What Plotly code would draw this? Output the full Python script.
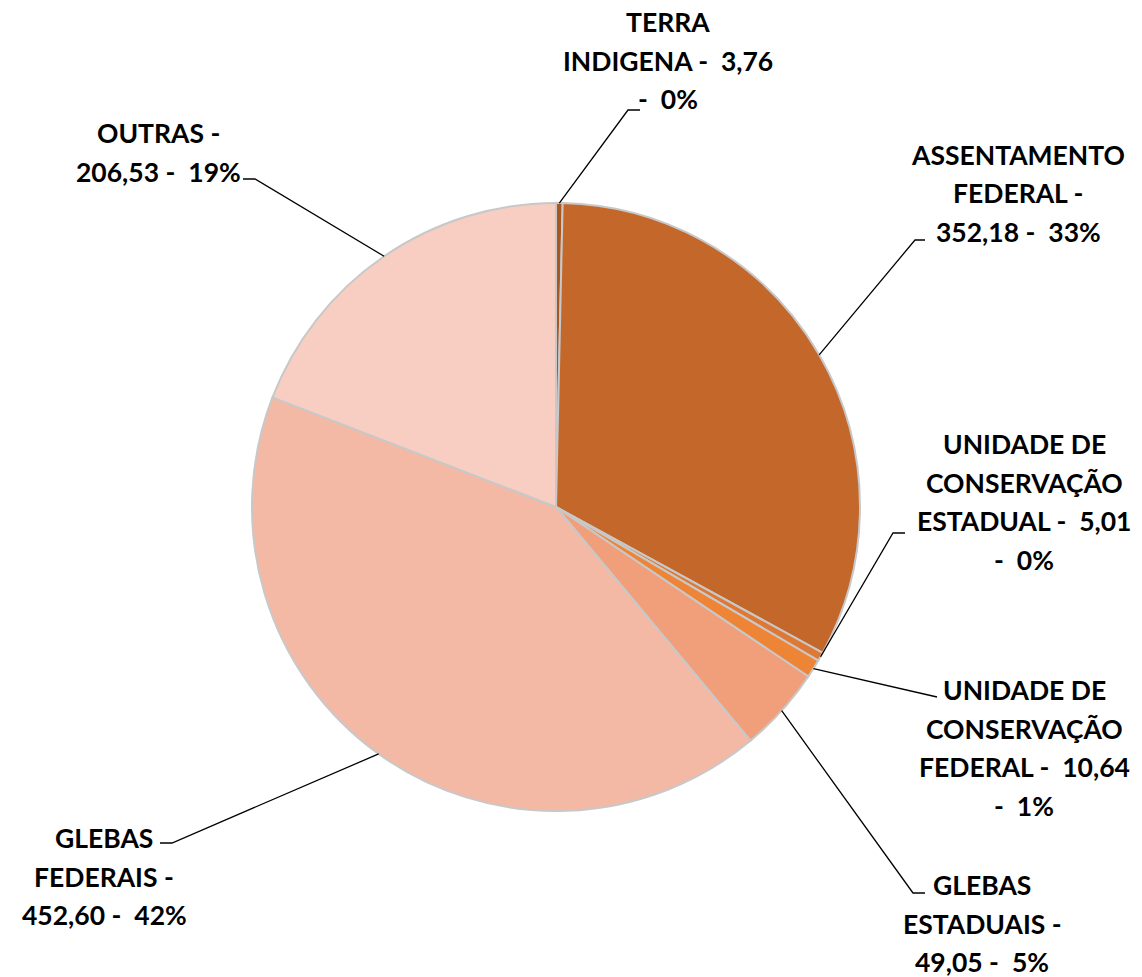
import math

import plotly.graph_objects as go

# dados (área, na ordem do gráfico, sentido horário a partir do topo)
CATEGORIAS = [
    "TERRA INDIGENA",
    "ASSENTAMENTO FEDERAL",
    "UNIDADE DE CONSERVAÇÃO ESTADUAL",
    "UNIDADE DE CONSERVAÇÃO FEDERAL",
    "GLEBAS ESTADUAIS",
    "GLEBAS FEDERAIS",
    "OUTRAS",
]
VALORES = [3.76, 352.18, 5.01, 10.64, 49.05, 452.60, 206.53]
CORES = ["#A9561F", "#C4672B", "#DE7834", "#EE8536", "#F09F7A", "#F4B9A5", "#F8CEC2"]

# quebra de linha de cada rótulo (nº de palavras por linha)
QUEBRAS = [[1, 3, 2], [1, 2, 3], [2, 1, 3, 2], [2, 1, 3, 2], [1, 2, 3], [1, 2, 3], [2, 3]]

W, H = 1142, 977
CX, CY, R = 556, 507, 304
LINHA = 38.5
FONTE = dict(family="Lato, Calibri, sans-serif", size=26.5, color="#000000", weight="bold")

# posição dos rótulos (px): centro x, y da 1ª linha, cotovelo e fim da linha de chamada
ROTULOS = [
    (668, 22, (628, 110), (640, 110)),
    (1018, 155, (915, 240), (925, 240)),
    (1024, 444, (893, 533), (905, 533)),
    (1024, 690, (937, 697), (937, 697)),
    (982, 885, (913, 893), (925, 893)),
    (104, 838, (172, 843), (160, 843)),
    (158, 133, (255, 179), (243, 179)),
]


def px(x, y):
    return x / W, 1 - y / H


def fmt(v):
    return f"{v:.2f}".replace(".", ",")


total = sum(VALORES)

fig = go.Figure()
dx0, dy1 = px(CX - R, CY - R)
dx1, dy0 = px(CX + R, CY + R)
fig.add_trace(go.Pie(
    labels=CATEGORIAS, values=VALORES, sort=False, direction="clockwise",
    textinfo="none", showlegend=False,
    marker=dict(colors=CORES, line=dict(color="#C8C8C8", width=2)),
    domain=dict(x=[dx0, dx1], y=[dy0, dy1]),
))

anots, shapes = [], []
acum = 0
for nome, v, quebras, (lx, ly, cot, fim) in zip(CATEGORIAS, VALORES, QUEBRAS, ROTULOS):
    pct = round(v / total * 100)
    tokens = nome.split() + ["- ", fmt(v), "- ", f"{pct}%"]
    i = 0
    for n, k in enumerate(quebras):
        texto = " ".join(tokens[i:i + k]).strip()
        i += k
        x, y = px(lx, ly + n * LINHA)
        anots.append(dict(x=x, y=y, xref="paper", yref="paper", text=texto, showarrow=False,
                          xanchor="center", yanchor="middle", font=FONTE))

    # linha de chamada: do meio da fatia na borda até o rótulo
    ang = math.radians((acum + v / 2) / total * 360)
    acum += v
    x0, y0 = px(CX + R * math.sin(ang), CY - R * math.cos(ang))
    x1, y1 = px(*cot)
    x2, y2 = px(*fim)
    shapes.append(dict(type="path", xref="paper", yref="paper",
                       path=f"M {x0},{y0} L {x1},{y1} L {x2},{y2}",
                       line=dict(color="#000000", width=1.3)))

fig.update_layout(
    width=W, height=H,
    margin=dict(l=0, r=0, t=0, b=0),
    paper_bgcolor="#FFFFFF", plot_bgcolor="#FFFFFF",
    annotations=anots, shapes=shapes,
)
# sem a margem padrão do <body>, o gráfico ocupa a janela inteira
fig.write_html("out.html", config={"displayModeBar": False},
               post_script="document.body.style.margin='0';")
